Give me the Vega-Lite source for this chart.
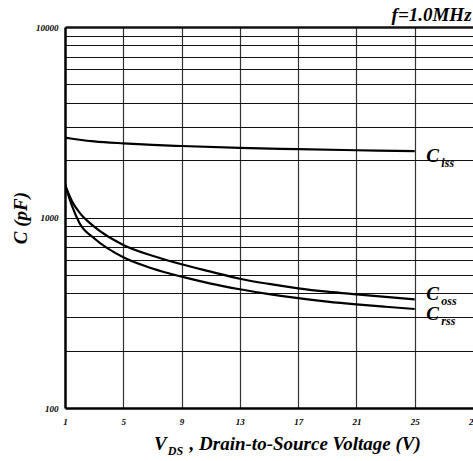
{
  "$schema": "https://vega.github.io/schema/vega-lite/v6.json",
  "width": 408,
  "height": 381,
  "autosize": {"type": "none"},
  "padding": {"left": 65, "top": 27, "right": 0, "bottom": 53},
  "background": "white",
  "config": {
    "view": {"stroke": null},
    "font": "Liberation Serif",
    "axis": {"labelFont": "Liberation Serif", "titleFont": "Liberation Serif", "labelFontStyle": "italic", "titleFontStyle": "italic", "labelFontWeight": "bold", "titleFontWeight": "bold", "labelColor": "black", "titleColor": "black"}
  },
  "datasets": {
    "curves": [
      {"v": 1, "c": 2624, "s": "Ciss"}, {"v": 1.5, "c": 2590, "s": "Ciss"}, {"v": 2, "c": 2560, "s": "Ciss"}, {"v": 3, "c": 2510, "s": "Ciss"}, {"v": 5, "c": 2450, "s": "Ciss"}, {"v": 7, "c": 2405, "s": "Ciss"}, {"v": 9, "c": 2373, "s": "Ciss"}, {"v": 13, "c": 2320, "s": "Ciss"}, {"v": 17, "c": 2285, "s": "Ciss"}, {"v": 21, "c": 2255, "s": "Ciss"}, {"v": 25, "c": 2228, "s": "Ciss"},
      {"v": 1, "c": 1490, "s": "Coss"}, {"v": 1.5, "c": 1211, "s": "Coss"}, {"v": 2, "c": 1060, "s": "Coss"}, {"v": 3, "c": 895, "s": "Coss"}, {"v": 5, "c": 718, "s": "Coss"}, {"v": 7, "c": 630, "s": "Coss"}, {"v": 9, "c": 568, "s": "Coss"}, {"v": 11, "c": 520, "s": "Coss"}, {"v": 13, "c": 477, "s": "Coss"}, {"v": 15, "c": 448, "s": "Coss"}, {"v": 17, "c": 425, "s": "Coss"}, {"v": 19, "c": 408, "s": "Coss"}, {"v": 21, "c": 395, "s": "Coss"}, {"v": 23, "c": 383, "s": "Coss"}, {"v": 25, "c": 372, "s": "Coss"},
      {"v": 1, "c": 1490, "s": "Crss"}, {"v": 1.5, "c": 1140, "s": "Crss"}, {"v": 2, "c": 933, "s": "Crss"}, {"v": 3, "c": 778, "s": "Crss"}, {"v": 5, "c": 618, "s": "Crss"}, {"v": 7, "c": 540, "s": "Crss"}, {"v": 9, "c": 489, "s": "Crss"}, {"v": 11, "c": 450, "s": "Crss"}, {"v": 13, "c": 420, "s": "Crss"}, {"v": 15, "c": 396, "s": "Crss"}, {"v": 17, "c": 377, "s": "Crss"}, {"v": 19, "c": 362, "s": "Crss"}, {"v": 21, "c": 350, "s": "Crss"}, {"v": 23, "c": 340, "s": "Crss"}, {"v": 25, "c": 331, "s": "Crss"}
    ],
    "labels": [
      {"v": 25.8, "c": 2100, "main": "C", "sub": "iss"},
      {"v": 25.8, "c": 399, "main": "C", "sub": "oss"},
      {"v": 25.8, "c": 310, "main": "C", "sub": "rss"}
    ],
    "xtitle": [
      {"v": 7.1, "c": 100, "t": "V"},
      {"v": 9.55, "c": 100, "t": ", Drain-to-Source Voltage (V)"}
    ],
    "xsub": [
      {"v": 8.05, "c": 100, "t": "DS"}
    ],
    "note": [
      {"v": 28.9, "c": 10000, "t": "f=1.0MHz"}
    ]
  },
  "layer": [
    {
      "data": {"name": "curves"},
      "mark": {"type": "line", "color": "black", "strokeWidth": 2.2, "interpolate": "monotone", "clip": true},
      "encoding": {
        "x": {"field": "v", "type": "quantitative",
          "scale": {"domain": [1, 29], "nice": false, "zero": false},
          "axis": {"title": null, "values": [1, 5, 9, 13, 17, 21, 25, 29], "grid": true,
            "gridColor": {"condition": {"test": "datum.value >= 29 || datum.value <= 1", "value": "transparent"}, "value": "#333"},
            "gridWidth": 1.2, "ticks": false, "domainColor": "black", "domainWidth": 2.5,
            "labelFontSize": 9, "labelPadding": 9, "labelFlush": false}},
        "y": {"field": "c", "type": "quantitative",
          "scale": {"type": "log", "domain": [100, 10000], "nice": false},
          "axis": {"title": "C (pF)", "titleFontSize": 19, "titlePadding": 5,
            "values": [100, 200, 300, 400, 500, 600, 700, 800, 900, 1000, 2000, 3000, 4000, 5000, 6000, 7000, 8000, 9000, 10000],
            "labelExpr": "(datum.value == 100 || datum.value == 1000 || datum.value == 10000) ? format(datum.value, 'd') : ''",
            "grid": true,
            "gridColor": {"condition": {"test": "datum.value <= 100", "value": "transparent"}, "value": "#111"},
            "gridWidth": {"condition": {"test": "datum.value >= 10000", "value": 2.5}, "value": 1},
            "ticks": false, "domainColor": "black", "domainWidth": 2.5,
            "labelFontSize": 9, "labelPadding": 7, "labelFlush": false}},
        "detail": {"field": "s"}
      }
    },
    {
      "data": {"name": "labels"},
      "mark": {"type": "text", "align": "left", "baseline": "middle", "fontSize": 19, "fontStyle": "italic", "fontWeight": "bold", "font": "Liberation Serif", "color": "black"},
      "encoding": {"x": {"field": "v", "type": "quantitative"}, "y": {"field": "c", "type": "quantitative"}, "text": {"field": "main"}}
    },
    {
      "data": {"name": "labels"},
      "mark": {"type": "text", "align": "left", "baseline": "middle", "dx": 15, "dy": 7, "fontSize": 12, "fontStyle": "italic", "fontWeight": "bold", "font": "Liberation Serif", "color": "black"},
      "encoding": {"x": {"field": "v", "type": "quantitative"}, "y": {"field": "c", "type": "quantitative"}, "text": {"field": "sub"}}
    },
    {
      "data": {"name": "xtitle"},
      "mark": {"type": "text", "align": "left", "baseline": "alphabetic", "dy": 42, "fontSize": 19, "fontStyle": "italic", "fontWeight": "bold", "font": "Liberation Serif", "color": "black"},
      "encoding": {"x": {"field": "v", "type": "quantitative"}, "y": {"field": "c", "type": "quantitative"}, "text": {"field": "t"}}
    },
    {
      "data": {"name": "xsub"},
      "mark": {"type": "text", "align": "left", "baseline": "alphabetic", "dy": 47, "fontSize": 12, "fontStyle": "italic", "fontWeight": "bold", "font": "Liberation Serif", "color": "black"},
      "encoding": {"x": {"field": "v", "type": "quantitative"}, "y": {"field": "c", "type": "quantitative"}, "text": {"field": "t"}}
    },
    {
      "data": {"name": "note"},
      "mark": {"type": "text", "align": "right", "baseline": "alphabetic", "dy": -6, "fontSize": 19, "fontStyle": "italic", "fontWeight": "bold", "font": "Liberation Serif", "color": "black"},
      "encoding": {"x": {"field": "v", "type": "quantitative"}, "y": {"field": "c", "type": "quantitative"}, "text": {"field": "t"}}
    }
  ]
}
